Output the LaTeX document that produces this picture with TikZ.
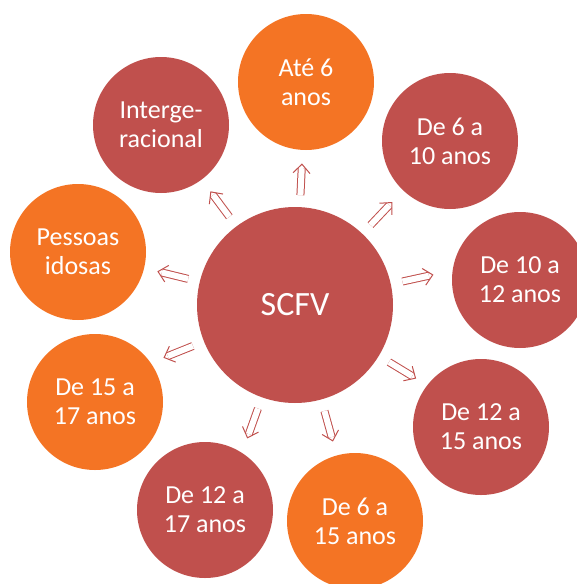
\documentclass[tikz,border=0pt]{standalone}
\usepackage{fontspec}
\setmainfont{Carlito}
\usetikzlibrary{calc}
\definecolor{redc}{HTML}{C0504D}
\definecolor{orangec}{HTML}{F47424}
\newcommand\spokearrow[2]{%
  \coordinate (sA) at ($(scfv)!110pt!#2:(#1)$);
  \coordinate (sT) at ($(scfv)!141pt!#2:(#1)$);
  \coordinate (sS) at ($(scfv)!137pt!#2:(#1)$);
  \coordinate (sB) at ($(scfv)!132pt!#2:(#1)$);
  \draw[shaft] (sA) -- (sS);
  \draw[chev] ($(sB)!8.5pt!90:(sT)$) -- (sT) -- ($(sB)!8.5pt!-90:(sT)$);
}
\begin{document}
\begin{tikzpicture}[x=1pt,y=-1pt,
  bub/.style={circle,minimum size=136pt,inner sep=0pt,text=white,align=center,
    font=\fontsize{26}{29}\selectfont},
  redb/.style={bub,fill=redc},
  orab/.style={bub,fill=orangec},
  shaft/.style={draw=redc,double=white,double distance=6pt,line width=1pt},
  chev/.style={draw=redc,line width=1pt,line join=miter}]
\useasboundingbox (0,0) rectangle (577,584);
\node[circle,fill=redc,minimum size=196pt,inner sep=0pt,text=white,
  font=\fontsize{34}{38}\selectfont] (scfv) at (295,305) {SCFV};
\node[orab] (ate) at (306,82) {Até 6\\anos};
\node[redb] (d610) at (450,141) {De 6 a\\10 anos};
\node[redb] (d1012) at (520,280) {De 10 a\\12 anos};
\node[redb] (d1215) at (481,427) {De 12 a\\15 anos};
\node[orab] (d615) at (355,521) {De 6 a\\15 anos};
\node[redb] (d1217) at (205,510) {De 12 a\\17 anos};
\node[orab] (d1517) at (95,402) {De 15 a\\17 anos};
\node[orab] (idosas) at (78,252) {Pessoas\\idosas};
\node[redb] (inter) at (161,125) {Interge-\\racional};
\spokearrow{ate}{0}
\spokearrow{d610}{0}
\spokearrow{d1012}{6}
\spokearrow{d1215}{2}
\spokearrow{d615}{0}
\spokearrow{d1217}{4}
\spokearrow{d1517}{-4}
\spokearrow{idosas}{0}
\spokearrow{inter}{0}
\end{tikzpicture}
\end{document}
